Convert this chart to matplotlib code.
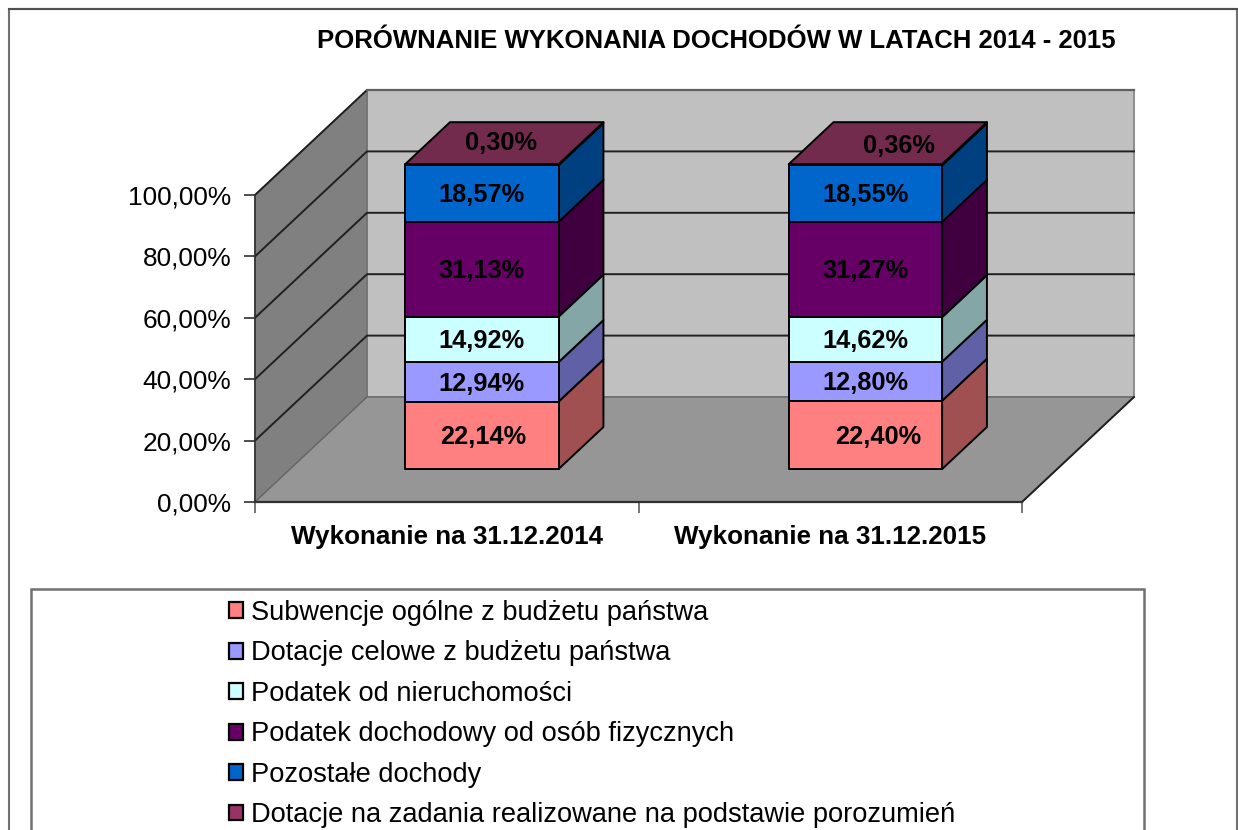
#!/usr/bin/env python3
# -*- coding: utf-8 -*-

import matplotlib
matplotlib.use("Agg")
import matplotlib.pyplot as plt
from matplotlib.patches import Patch, Rectangle

plt.rcParams['font.family'] = ['Liberation Sans', 'DejaVu Sans']

W, H = 1238, 830

# Data
categories = ['Wykonanie na 31.12.2014', 'Wykonanie na 31.12.2015']
series_names = [
    'Subwencje ogólne z budżetu państwa',
    'Dotacje celowe z budżetu państwa',
    'Podatek od nieruchomości',
    'Podatek dochodowy od osób fizycznych',
    'Pozostałe dochody',
    'Dotacje na zadania realizowane na podstawie porozumień',
]
values_2014 = [22.14, 12.94, 14.92, 31.13, 18.57, 0.30]
values_2015 = [22.40, 12.80, 14.62, 31.27, 18.55, 0.36]
y_ticks = [0, 20, 40, 60, 80, 100]
y_labels = ['0,00%', '20,00%', '40,00%', '60,00%', '80,00%', '100,00%']

# Styles
face_colors = ['#FF8080', '#9999FF', '#CCFFFF', '#660066', '#0066CC', '#993366']
side_colors = ['#A05050', '#6060A6', '#85A6A6', '#400040', '#004080', '#722A4D']
top_color = '#722A4D'

# Depth of the fake 3D box, in data units
DX = 112 / 383.5
DY = 105 / 3.07
BAR_WIDTH = 0.40
BAR_FRONT = 0.314
BAR_BACK = 0.714
BAR_SCALE = 0.993  # columns look a touch shorter than the axis


def proj(x, y, d):
    return x + d * DX, y * BAR_SCALE + d * DY


def wall(x, y, d):
    return x + d * DX, y + d * DY


def poly(ax, points, color, edge='black', lw=1.4, z=1):
    xs = [p[0] for p in points]
    ys = [p[1] for p in points]
    ax.fill(xs, ys, facecolor=color, edgecolor=edge, linewidth=lw,
            joinstyle='round', clip_on=False, zorder=z)


fig = plt.figure(figsize=(W / 100, H / 100), dpi=100)

# Background layer in pixels: frame, legend box
bg = fig.add_axes([0, 0, 1, 1])
bg.set_xlim(0, W)
bg.set_ylim(H, 0)
bg.axis('off')
bg.plot([9, 9, 1237, 1237], [H + 5, 9, 9, H + 5], color='#707070', lw=1.5, clip_on=True)
bg.plot([9, 1237], [9, 9], color='#505050', lw=1.5)
bg.add_patch(Rectangle((31, 589), 1113, 260, facecolor='white', edgecolor='#707070', lw=1.8))

# Main axes: the front plane of the chart
ax = fig.add_axes([255 / W, (H - 502) / H, 767 / W, 307 / H])
ax.patch.set_alpha(0)
ax.set_xlim(0, 2)
ax.set_ylim(0, 100)

# Walls and floor
poly(ax, [wall(0, 0, 1), wall(2, 0, 1), wall(2, 100, 1), wall(0, 100, 1)], '#C0C0C0', edge='#8C8C8C', z=0.5)
poly(ax, [wall(0, 0, 0), wall(0, 0, 1), wall(0, 100, 1), wall(0, 100, 0)], '#808080', edge='#707070', lw=1, z=0.6)
poly(ax, [wall(0, 0, 0), wall(2, 0, 0), wall(2, 0, 1), wall(0, 0, 1)], '#969696', edge='#666666', lw=1, z=0.7)

# Gridlines on the side and back wall
for t in y_ticks[1:]:
    x0, y0 = wall(0, t, 0)
    x1, y1 = wall(0, t, 1)
    x2, y2 = wall(2, t, 1)
    ax.plot([x0, x1, x2], [y0, y1, y2], color='#202020', lw=1.4, clip_on=False, zorder=0.8)
x0, y0 = wall(2, 0, 0)
x1, y1 = wall(2, 0, 1)
ax.plot([x0, x1], [y0, y1], color='#202020', lw=1.4, clip_on=False, zorder=0.8)
x0, y0 = wall(0, 100, 1)
x2, y2 = wall(2, 100, 1)
ax.plot([x0, x2], [y0, y2], color='#606060', lw=1.6, clip_on=False, zorder=0.8)

# Label nudges for the ones Excel left off-centre
top_shift = [-0.008, 0.028]
top_lift = [0.1, -0.9]
bottom_shift = [0.003, 0.034]

# Stacked bars
for i, vals in enumerate([values_2014, values_2015]):
    left = i + 0.5 - BAR_WIDTH / 2
    right = i + 0.5 + BAR_WIDTH / 2
    bottom = 0
    for k, v in enumerate(vals):
        top = bottom + v
        a = proj(left, bottom, BAR_FRONT)
        b = proj(right, bottom, BAR_FRONT)
        c = proj(right, top, BAR_FRONT)
        d = proj(left, top, BAR_FRONT)
        e = proj(right, bottom, BAR_BACK)
        f = proj(right, top, BAR_BACK)
        poly(ax, [b, e, f, c], side_colors[k], z=2 + k * 0.1)
        poly(ax, [a, b, c, d], face_colors[k], z=3 + k * 0.1)
        bottom = top
    # top of the column
    g = proj(left, 100, BAR_FRONT)
    h = proj(right, 100, BAR_FRONT)
    j = proj(right, 100, BAR_BACK)
    m = proj(left, 100, BAR_BACK)
    poly(ax, [g, h, j, m], top_color, z=4)

    # Value labels
    bottom = 0
    for k, v in enumerate(vals):
        label = f'{v:.2f}%'.replace('.', ',')
        if k == len(vals) - 1:
            lx, ly = proj(i + 0.5 + top_shift[i], 100, (BAR_FRONT + BAR_BACK) / 2)
            ly += top_lift[i]
        else:
            shift = bottom_shift[i] if k == 0 else 0
            lx, ly = proj(i + 0.5 + shift, bottom + v / 2, BAR_FRONT)
            ly -= 0.6
        ax.text(lx, ly, label, ha='center', va='center', fontsize=18.3, fontweight='bold',
                color='black', clip_on=False, zorder=6)
        bottom += v

# Axes and ticks
for s in ['top', 'right']:
    ax.spines[s].set_visible(False)
ax.spines['left'].set_linewidth(1.2)
ax.spines['left'].set_color('#303030')
ax.spines['bottom'].set_linewidth(1.6)
ax.spines['bottom'].set_color('#303030')
ax.spines['left'].set_zorder(5)
ax.spines['bottom'].set_zorder(5)
ax.set_yticks(y_ticks)
ax.set_yticklabels(y_labels, fontsize=18.9, color='black')
ax.tick_params(axis='y', length=8, width=1.2, color='#303030', pad=9)
ax.set_xticks([0, 1, 2])
ax.set_xticklabels([])
ax.tick_params(axis='x', length=8, width=1.2, color='#606060')
ax.set_xticks([0.5, 1.5], minor=True)
ax.set_xticklabels(categories, minor=True, fontsize=18.7, fontweight='bold', color='black')
ax.tick_params(axis='x', which='minor', length=0, pad=16.5)

fig.text(716 / W, 1 - 41 / H, 'PORÓWNANIE WYKONANIA DOCHODÓW W LATACH 2014 - 2015',
         ha='center', va='center', fontsize=18.55, fontweight='bold', color='black')

# Legend
handles = [Patch(facecolor=c, edgecolor='black', linewidth=1.6) for c in face_colors]
fig.legend(handles, series_names, loc='upper left', bbox_to_anchor=(229 / W, 1 - 600 / H),
           frameon=False, fontsize=19.6, borderpad=0, borderaxespad=0, handlelength=0.52,
           handleheight=0.52, handletextpad=0.3, labelspacing=0.53, labelcolor='black')

fig.savefig('out.png', dpi=100)
plt.close(fig)
